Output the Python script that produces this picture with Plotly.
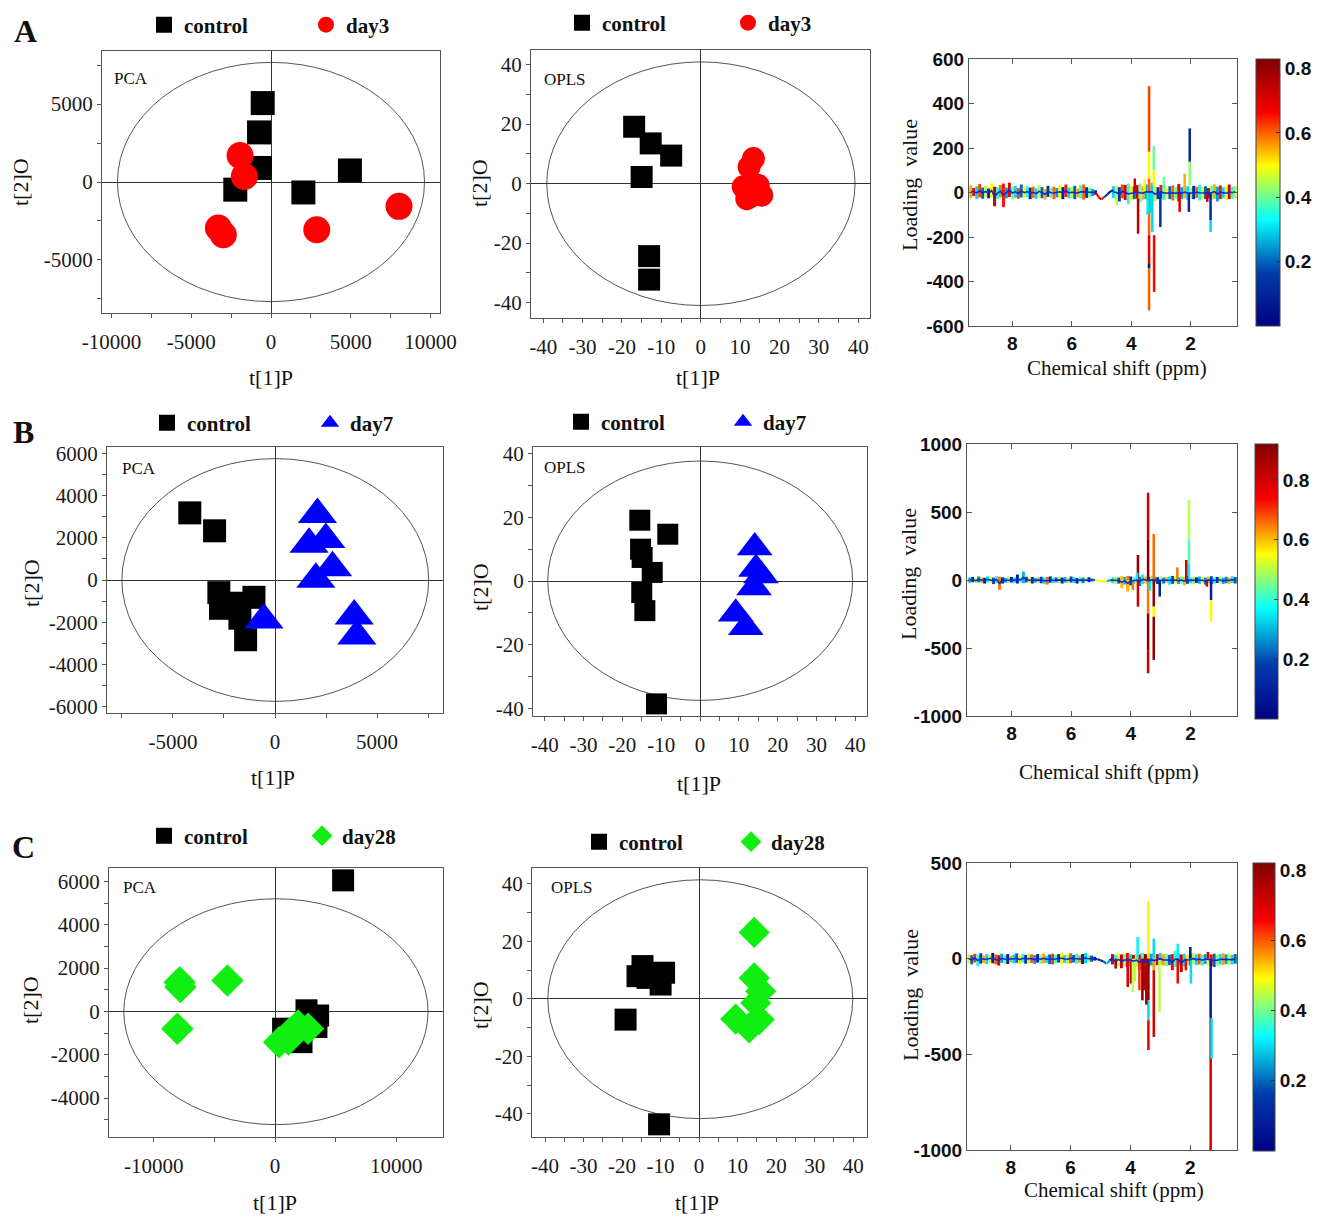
import plotly.graph_objects as go
from plotly.colors import sample_colorscale

W, H = 1321, 1217

# ======================= SCORE PLOT DATA =======================
A_PCA_CTRL_X = [-520, -750, -690, -2240, 2030, 4950]
A_PCA_CTRL_Y = [5060, 3180, 900, -490, -670, 740]
A_PCA_DAY_X = [-1940, -1670, -3300, -2990, 2870, 8030]
A_PCA_DAY_Y = [1700, 360, -2950, -3380, -3060, -1560]

A_OPLS_CTRL_X = [-16.9, -12.7, -7.5, -15.0, -13.1, -13.1]
A_OPLS_CTRL_Y = [19.1, 13.5, 9.4, 2.2, -24.4, -32.3]
A_OPLS_DAY_X = [13.4, 12.3, 10.8, 14.6, 15.5, 11.7, 12.5]
A_OPLS_DAY_Y = [8.4, 5.6, -1.1, -0.6, -3.9, -5.1, -4.5]

B_PCA_CTRL_X = [-4175, -2960, -2750, -2670, -1770, -1030, -1720, -1440]
B_PCA_CTRL_Y = [3180, 2330, -600, -1340, -1100, -820, -1810, -2830]
B_PCA_DAY_X = [2080, 1670, 2490, 2820, 2000, 3880, 4010, -540]
B_PCA_DAY_Y = [3100, 1690, 1920, 580, 30, -1700, -2650, -1890]

B_OPLS_CTRL_X = [-15.5, -8.3, -15.3, -14.9, -12.3, -15.0, -14.2, -11.2]
B_OPLS_CTRL_Y = [19.1, 14.7, 10.0, 7.4, 2.7, -3.6, -9.3, -38.6]
B_OPLS_DAY_X = [14.1, 14.4, 15.7, 13.9, 9.2, 11.8]
B_OPLS_DAY_Y = [10.5, 3.8, 1.7, -2.0, -10.3, -14.5]

C_PCA_CTRL_X = [5610, 2590, 3550, 3410, 660, 2180, 1490]
C_PCA_CTRL_Y = [6050, 50, -190, -720, -800, -1420, -1180]
C_PCA_DAY_X = [-7870, -7810, -3930, -8060, 330, 1160, 1900, 2720, 1100]
C_PCA_DAY_Y = [1350, 1120, 1430, -800, -1420, -1030, -650, -800, -1300]

C_OPLS_CTRL_X = [-14.7, -16.0, -13.4, -9.1, -10.0, -19.1, -10.4]
C_OPLS_CTRL_Y = [11.4, 7.9, 7.3, 9.1, 5.0, -7.2, -43.6]
C_OPLS_DAY_X = [14.3, 14.3, 16.0, 14.7, 9.5, 13.0, 15.6]
C_OPLS_DAY_Y = [23.1, 7.3, 2.7, -1.4, -7.0, -10.1, -7.2]

# Hotelling T2 ellipse extents (x0, x1, y0, y1)
A_PCA_ELL = [-9630, 9630, -7670, 7670]
A_OPLS_ELL = [-39.1, 39.2, -41.0, 40.9]
B_PCA_ELL = [-7500, 7530, -5750, 5750]
B_OPLS_ELL = [-39.2, 39.3, -37.5, 37.7]
C_PCA_ELL = [-12480, 12620, -5230, 5200]
C_OPLS_ELL = [-39.3, 39.9, -41.6, 41.4]

GROUPS = ["control", "day3", "day7", "day28"]

# tick labels
A_PCA_XT = [-10000, -5000, 0, 5000, 10000]
A_PCA_YT = [-5000, 0, 5000]
B_PCA_XT = [-5000, 0, 5000]
B_PCA_YT = [-6000, -4000, -2000, 0, 2000, 4000, 6000]
C_PCA_XT = [-10000, 0, 10000]
C_PCA_YT = [-4000, -2000, 0, 2000, 4000, 6000]
OPLS_XT = [-40, -30, -20, -10, 0, 10, 20, 30, 40]
OPLS_YT = [-40, -20, 0, 20, 40]
LOAD_XT = [8, 6, 4, 2]
A_LOAD_YT = [-600, -400, -200, 0, 200, 400, 600]
B_LOAD_YT = [-1000, -500, 0, 500, 1000]
C_LOAD_YT = [-1000, -500, 0, 500]
CBAR_T = [0.2, 0.4, 0.6, 0.8]

# ======================= LOADING PLOT DATA =======================
NOISE_PPM = [9.4, 9.3, 9.2, 9.1, 9.0, 8.9, 8.8, 8.7, 8.6, 8.5, 8.4, 8.3, 8.2, 8.1, 8.0,
             7.9, 7.8, 7.7, 7.6, 7.5, 7.4, 7.3, 7.2, 7.1, 7.0, 6.9, 6.8, 6.7, 6.6, 6.5,
             6.4, 6.3, 6.2, 6.1, 6.0, 5.9, 5.8, 5.7, 5.6, 5.5, 5.4, 5.3, 5.2,
             4.6, 4.5, 4.4, 4.3, 4.2, 4.1, 4.0, 3.9, 3.8, 3.7, 3.6, 3.5, 3.4, 3.3,
             3.2, 3.1, 3.0, 2.9, 2.8, 2.7, 2.6, 2.5, 2.4, 2.3, 2.2, 2.1, 2.0, 1.9,
             1.8, 1.7, 1.6, 1.5, 1.4, 1.3, 1.2, 1.1, 1.0, 0.9, 0.8, 0.7, 0.6, 0.5]

A_NZ_HI = [32, 20, 28, 38, 22, 30, 18, 42, 26, 24, 34, 40, 22, 44, 26, 30, 20, 36, 24, 28, 22,
           26, 18, 32, 24, 16, 30, 22, 26, 20, 32, 24, 36, 22, 26, 30, 18, 32, 36, 24, 22, 16, 10,
           28, 30, 24, 36, 34, 40, 30, 26, 34, 40, 28, 36, 30, 44, 26, 24, 34, 30, 22, 28, 32,
           26, 38, 24, 30, 28, 22, 30, 26, 34, 24, 28, 20, 30, 36, 26, 32, 24, 28, 36, 26, 30]
A_NZ_LO = [-26, -16, -30, -22, -28, -20, -26, -24, -62, -30, -22, -66, -26, -20, -30, -24, -28,
           -22, -26, -20, -30, -24, -28, -22, -26, -32, -20, -24, -30, -22, -26, -30, -20, -26,
           -24, -30, -22, -26, -32, -24, -20, -16, -10,
           -24, -30, -40, -26, -34, -52, -36, -30, -28, -44, -32, -30, -26, -36, -40, -30, -28,
           -34, -26, -30, -36, -28, -40, -30, -26, -34, -28, -30, -24, -36, -28, -30, -26, -32,
           -28, -40, -30, -26, -34, -30, -28, -24]
A_NZ_C = [0.55, 0.7, 0.3, 0.62, 0.2, 0.45, 0.12, 0.5, 0.72, 0.35, 0.58, 0.65, 0.25, 0.7, 0.4,
          0.3, 0.62, 0.2, 0.5, 0.35, 0.1, 0.6, 0.3, 0.45, 0.2, 0.55, 0.15, 0.4, 0.6, 0.25, 0.5,
          0.1, 0.65, 0.3, 0.45, 0.2, 0.55, 0.35, 0.6, 0.15, 0.4, 0.25, 0.1,
          0.3, 0.45, 0.15, 0.62, 0.7, 0.35, 0.5, 0.2, 0.72, 0.4, 0.55, 0.25, 0.6, 0.3, 0.45,
          0.15, 0.65, 0.35, 0.5, 0.2, 0.6, 0.4, 0.7, 0.25, 0.55, 0.3, 0.45, 0.15, 0.6, 0.35,
          0.5, 0.2, 0.7, 0.4, 0.55, 0.25, 0.65, 0.3, 0.5, 0.72, 0.35, 0.45]
A_SPK_PPM = [3.40, 3.40, 3.40, 3.40, 3.40, 3.40, 3.24, 3.24, 3.23, 3.29, 3.45, 3.35, 3.77, 3.88,
             3.55, 3.02, 2.03, 2.03, 2.06, 1.33, 1.33, 2.37, 1.44, 2.90, 2.20, 4.49]
A_SPK_LO = [183, 63, -192, -327, -530, -340, 100, 30, -447, -177, -100, -90, -185, 0,
            0, -155, 138, 33, -87, -125, -177, -87, -42, 0, 0, -57]
A_SPK_HI = [478, 183, 63, -192, -327, -320, 208, 100, -192, 0, 0, 0, -27, 63,
            60, 0, 288, 138, 0, 0, -125, 0, 0, 70, 85, 0]
A_SPK_C = [0.62, 0.50, 0.60, 0.70, 0.60, 0.08, 0.40, 0.50, 0.66, 0.30, 0.32, 0.30, 0.75, 0.72,
           0.50, 0.15, 0.10, 0.42, 0.12, 0.12, 0.30, 0.70, 0.72, 0.40, 0.55, 0.45]
A_WATER_PPM = [5.2, 5.1, 5.05, 5.0, 4.9, 4.8, 4.7, 4.6]
A_WATER_Y = [0, -20, -28, -30, -20, -8, 5, 10]
A_WATER_C = [0.68, 0.7, 0.7, 0.65, 0.15, 0.1, 0.1]

B_NZ_HI = [18, 22, 14, 26, 20, 16, 28, 22, 18, 30, 24, 20, 16, 26, 22, 18, 40, 20, 62, 24, 18,
           22, 16, 20, 24, 18, 22, 26, 16, 20, 24, 18, 22, 16, 26, 20, 14, 22, 18, 16, 20, 12, 8,
           20, 24, 18, 28, 22, 30, 26, 20, 34, 24, 40, 26, 22, 30, 24, 20, 28, 18, 22, 26, 30,
           24, 20, 26, 22, 28, 18, 24, 20, 26, 22, 18, 24, 28, 20, 22, 26, 18, 24, 20, 28, 22]
B_NZ_LO = [-20, -16, -24, -18, -22, -26, -18, -24, -30, -24, -72, -26, -20, -24, -18, -22, -26,
           -20, -24, -18, -22, -26, -20, -18, -24, -28, -34, -20, -24, -18, -22, -26, -20, -24,
           -18, -22, -26, -20, -24, -18, -16, -12, -8,
           -24, -30, -26, -60, -34, -78, -40, -30, -36, -44, -30, -26, -34, -28, -24, -30, -36,
           -26, -22, -34, -28, -24, -30, -26, -40, -28, -24, -30, -22, -28, -26, -34, -24, -30,
           -28, -22, -26, -30, -24, -28, -22, -26]
B_NZ_C = [0.3, 0.15, 0.5, 0.25, 0.6, 0.1, 0.35, 0.55, 0.2, 0.4, 0.65, 0.15, 0.3, 0.5, 0.12,
          0.35, 0.1, 0.45, 0.3, 0.2, 0.55, 0.15, 0.3, 0.6, 0.2, 0.35, 0.65, 0.12, 0.4, 0.25,
          0.5, 0.15, 0.3, 0.55, 0.2, 0.35, 0.1, 0.45, 0.25, 0.5, 0.15, 0.3, 0.5,
          0.35, 0.5, 0.2, 0.6, 0.3, 0.65, 0.15, 0.4, 0.55, 0.25, 0.35, 0.6, 0.2, 0.45, 0.3,
          0.15, 0.5, 0.25, 0.6, 0.35, 0.2, 0.55, 0.3, 0.45, 0.6, 0.2, 0.35, 0.5, 0.15, 0.3,
          0.55, 0.25, 0.6, 0.2, 0.4, 0.15, 0.5, 0.3, 0.25, 0.6, 0.35, 0.2]
B_SPK_PPM = [3.42, 3.42, 3.42, 3.42, 3.42, 3.23, 3.23, 3.23, 3.23, 3.36, 3.76, 3.76, 3.03,
             2.05, 2.05, 2.05, 2.14, 2.44, 1.31, 1.31, 1.45, 3.93, 4.10, 3.79]
B_SPK_LO = [0, 294, -245, -515, -686, 0, -196, -270, -588, -80, 0, -196, -122,
            300, 120, 0, 0, 0, -147, -306, -49, -73, -86, 0]
B_SPK_HI = [294, 642, 0, -245, -515, 338, 0, -196, -270, 0, 184, 0, 0,
            588, 300, 120, 147, 93, 0, -147, 0, 0, 0, 54]
B_SPK_C = [0.90, 0.80, 0.65, 0.90, 0.80, 0.66, 0.88, 0.55, 0.90, 0.35, 0.90, 0.80, 0.10,
           0.50, 0.42, 0.35, 0.80, 0.65, 0.10, 0.55, 0.80, 0.65, 0.60, 0.35]
B_WATER_PPM = [5.2, 5.1, 5.0, 4.9, 4.8, 4.7, 4.6]
B_WATER_Y = [0, -5, -10, -12, -8, -3, 0]
B_WATER_C = [0.55, 0.55, 0.55, 0.55, 0.3, 0.2]

C_NZ_HI = [22, 18, 26, 20, 28, 16, 24, 20, 30, 22, 18, 26, 20, 24, 16, 22, 28, 18, 24, 20, 26,
           22, 18, 24, 20, 28, 16, 22, 26, 20, 24, 30, 18, 22, 28, 20, 26, 18, 24, 30, 20, 16, 10,
           24, 20, 28, 22, 26, 30, 24, 20, 26, 22, 30, 24, 28, 26, 20, 24, 30, 22, 26, 20, 24,
           40, 28, 22, 26, 20, 24, 30, 22, 26, 20, 24, 28, 22, 26, 20, 24, 28, 22, 26, 20, 24]
C_NZ_LO = [-24, -30, -20, -40, -26, -22, -28, -20, -24, -30, -36, -22, -26, -28, -20, -24, -22,
           -28, -20, -26, -24, -22, -28, -20, -26, -24, -22, -28, -30, -24, -20, -26, -22, -28,
           -24, -20, -26, -22, -28, -24, -20, -16, -10,
           -30, -48, -36, -50, -40, -44, -38, -46, -42, -60, -50, -48, -56, -36, -40, -34, -30,
           -36, -40, -34, -60, -44, -36, -70, -40, -30, -36, -28, -34, -30, -36, -28, -34, -40,
           -44, -36, -30, -34, -28, -32, -30, -26]
C_NZ_C = [0.5, 0.2, 0.62, 0.35, 0.15, 0.55, 0.3, 0.45, 0.1, 0.6, 0.7, 0.25, 0.4, 0.12, 0.55,
          0.3, 0.2, 0.5, 0.35, 0.15, 0.45, 0.6, 0.25, 0.1, 0.4, 0.55, 0.3, 0.2, 0.62, 0.35,
          0.15, 0.5, 0.3, 0.45, 0.6, 0.2, 0.35, 0.55, 0.1, 0.3, 0.45, 0.2, 0.12,
          0.7, 0.35, 0.5, 0.72, 0.4, 0.65, 0.3, 0.75, 0.45, 0.7, 0.35, 0.8, 0.6, 0.25, 0.5,
          0.7, 0.3, 0.55, 0.4, 0.2, 0.65, 0.35, 0.6, 0.72, 0.3, 0.5, 0.2, 0.45, 0.3, 0.6,
          0.35, 0.25, 0.5, 0.65, 0.2, 0.4, 0.3, 0.55, 0.25, 0.45, 0.3, 0.2]
C_SPK_PPM = [3.40, 3.40, 3.40, 3.40, 3.22, 3.22, 3.22, 3.76, 3.03, 4.09, 3.98, 3.92, 3.60,
             3.55, 3.70, 3.47, 2.42, 2.42, 2.00, 1.98, 2.15, 1.32, 1.32, 1.29, 4.49, 1.41, 3.85]
C_SPK_LO = [0, -218, -322, -478, 0, -60, -409, 0, -278, -148, -130, -174, -218,
            -165, -165, -240, 0, -130, 0, -130, -61, -313, -1000, -522, -52, 0, -120]
C_SPK_HI = [301, 0, -218, -322, 104, 0, -60, 113, 0, 0, 0, 0, 0,
            0, 0, 0, 78, 0, 61, 0, 0, 0, -313, -313, 0, 35, 0]
C_SPK_C = [0.50, 0.80, 0.30, 0.68, 0.30, 0.55, 0.70, 0.32, 0.45, 0.70, 0.75, 0.45, 0.80,
           0.75, 0.62, 0.78, 0.32, 0.65, 0.08, 0.30, 0.65, 0.08, 0.70, 0.30, 0.72, 0.70, 0.45]
C_WATER_PPM = [5.2, 5.1, 5.0, 4.9, 4.8, 4.75, 4.7, 4.6]
C_WATER_Y = [0, -3, -8, -15, -25, -22, -8, 0]
C_WATER_C = [0.1, 0.1, 0.12, 0.2, 0.3, 0.25, 0.1]

# ======================= LAYOUT HELPERS =======================
# pixel boxes of the plot frames: (left, right, top, bottom)
BOX = {1: (102, 440, 51, 313), 2: (531, 870, 50, 318), 3: (969, 1237, 59, 326),
       4: (107, 443, 447, 713), 5: (533, 867, 447, 716), 6: (967, 1237, 444, 716),
       7: (109, 443, 868, 1137), 8: (532, 867, 868, 1137), 9: (967, 1237, 863, 1150)}


def px(x):
    return x / W


def py(y):
    return 1 - y / H


def ax_names(k):
    s = "" if k == 1 else str(k)
    return "x" + s, "y" + s, "xaxis" + s, "yaxis" + s


SERIF = "Liberation Serif"
SANS = "Liberation Sans"
SC_FONT = dict(family=SERIF, size=21, color="#1a1a1a")
LD_FONT = dict(family=SANS, size=19, color="#111111", weight="bold")
LINE_C = "#555555"

fig = go.Figure()
layout = dict(width=W, height=H, margin=dict(l=0, r=0, t=0, b=0, autoexpand=False),
              plot_bgcolor="white", paper_bgcolor="white", barmode="overlay",
              showlegend=True, shapes=[], annotations=[])


def lbl(v):
    return str(v)


def score_axes(k, xr, yr, xt, yt, xminor, yminor):
    x0, x1, yt_px, yb_px = BOX[k]
    xn, yn, xk, yk = ax_names(k)
    common = dict(showline=True, mirror=True, linecolor=LINE_C, linewidth=1,
                  ticks="outside", ticklen=4, tickcolor=LINE_C, showgrid=False,
                  zeroline=True, zerolinecolor="#333333", zerolinewidth=1,
                  tickfont=SC_FONT, tickmode="array", fixedrange=True)
    layout[xk] = dict(common, domain=[px(x0), px(x1)], anchor=yn, range=xr,
                      tickvals=xt, ticktext=[lbl(v) for v in xt], ticklabelstandoff=6,
                      minor=dict(dtick=xminor, tick0=0, ticks="outside", ticklen=4,
                                 tickcolor=LINE_C))
    layout[yk] = dict(common, domain=[py(yb_px), py(yt_px)], anchor=xn, range=yr,
                      tickvals=yt, ticktext=[lbl(v) for v in yt],
                      minor=dict(dtick=yminor, tick0=0, ticks="outside", ticklen=4,
                                 tickcolor=LINE_C))


def load_axes(k, xr, yr, yt):
    x0, x1, yt_px, yb_px = BOX[k]
    xn, yn, xk, yk = ax_names(k)
    common = dict(showline=True, mirror="ticks", linecolor=LINE_C, linewidth=1,
                  ticks="inside", ticklen=5, tickcolor=LINE_C, showgrid=False,
                  zeroline=False, tickfont=LD_FONT, tickmode="array", fixedrange=True)
    layout[xk] = dict(common, domain=[px(x0), px(x1)], anchor=yn, range=xr,
                      tickvals=LOAD_XT, ticktext=[lbl(v) for v in LOAD_XT])
    layout[yk] = dict(common, domain=[py(yb_px), py(yt_px)], anchor=xn, range=yr,
                      tickvals=yt, ticktext=[lbl(v) for v in yt])


def add_scores(k, cx, cy, dx, dy, day_name, day_sym, day_col, sq_size, day_size, ell, legend):
    xn, yn, _, _ = ax_names(k)
    fig.add_trace(go.Scatter(x=cx, y=cy, mode="markers", name="control", legend=legend,
                             marker=dict(symbol="square", size=sq_size, color="black",
                                         line=dict(width=0)),
                             xaxis=xn, yaxis=yn, hoverinfo="x+y"))
    fig.add_trace(go.Scatter(x=dx, y=dy, mode="markers", name=day_name, legend=legend,
                             marker=dict(symbol=day_sym, size=day_size, color=day_col,
                                         line=dict(width=0)),
                             xaxis=xn, yaxis=yn, hoverinfo="x+y"))
    layout["shapes"].append(dict(type="circle", xref=xn, yref=yn, x0=ell[0], x1=ell[1],
                                 y0=ell[2], y1=ell[3], line=dict(color="#555555", width=1),
                                 layer="below"))


def add_loading(k, hi, lo, cc, s_ppm, s_lo, s_hi, s_c, w_ppm, w_y, w_c, cax, cmax):
    xn, yn, _, _ = ax_names(k)
    fig.add_trace(go.Bar(x=NOISE_PPM, y=[h - l for h, l in zip(hi, lo)], base=lo, width=0.1,
                         marker=dict(color=cc, coloraxis=cax, line=dict(width=0)),
                         showlegend=False, xaxis=xn, yaxis=yn, hoverinfo="skip"))
    # water-region trace, segment by segment, coloured by correlation
    for i in range(len(w_ppm) - 1):
        col = sample_colorscale("Jet", [min(w_c[i] / cmax, 1.0)])[0]
        fig.add_trace(go.Scatter(x=w_ppm[i:i + 2], y=w_y[i:i + 2], mode="lines",
                                 line=dict(color=col, width=2.2), showlegend=False,
                                 xaxis=xn, yaxis=yn, hoverinfo="skip"))
    fig.add_trace(go.Bar(x=s_ppm, y=[h - l for h, l in zip(s_hi, s_lo)], base=s_lo, width=0.085,
                         marker=dict(color=s_c, coloraxis=cax, line=dict(width=0)),
                         showlegend=False, xaxis=xn, yaxis=yn, hoverinfo="skip"))
    mid_x, mid_y = [], []
    for i, (p, h, l) in enumerate(zip(NOISE_PPM, hi, lo)):
        if i == 43:
            mid_x.append(None)
            mid_y.append(None)
        mid_x.append(p)
        mid_y.append((h + l) / 2)
    fig.add_trace(go.Scatter(x=mid_x, y=mid_y, mode="lines", line=dict(color="rgb(10,40,215)", width=1.6),
                             showlegend=False, xaxis=xn, yaxis=yn, hoverinfo="skip"))


def colorbar_axis(cmax, x0, x1, y0, y1):
    return dict(colorscale="Jet", cmin=0, cmax=cmax,
                colorbar=dict(x=px(x0), xanchor="left", xpad=0, y=py((y0 + y1) / 2),
                              yanchor="middle", ypad=0, len=y1 - y0, lenmode="pixels",
                              thickness=x1 - x0, thicknessmode="pixels", outlinewidth=1,
                              outlinecolor="#444444", tickmode="array", tickvals=CBAR_T,
                              ticktext=[lbl(v) for v in CBAR_T], ticks="inside", ticklen=4,
                              tickcolor="#333333", tickfont=LD_FONT))


def legend_cfg(x_start, y_center, entry_w):
    return dict(x=px(x_start), xanchor="left", y=py(y_center), yanchor="middle",
                orientation="h", bgcolor="rgba(0,0,0,0)", borderwidth=0,
                font=dict(family=SERIF, size=21, color="#111111", weight="bold"),
                entrywidth=entry_w, entrywidthmode="pixels", itemclick=False,
                itemdoubleclick=False)


# ======================= BUILD =======================
RED, BLUE, GREEN = "#ff0000", "#0000ff", "#11ee11"

score_axes(1, [-10600, 10600], [-8400, 8400], A_PCA_XT, A_PCA_YT, 2500, 2500)
add_scores(1, A_PCA_CTRL_X, A_PCA_CTRL_Y, A_PCA_DAY_X, A_PCA_DAY_Y, GROUPS[1], "circle", RED,
           24, 27, A_PCA_ELL, "legend")
score_axes(2, [-43.1, 43.0], [-45.2, 44.9], OPLS_XT, OPLS_YT, 5, 10)
add_scores(2, A_OPLS_CTRL_X, A_OPLS_CTRL_Y, A_OPLS_DAY_X, A_OPLS_DAY_Y, GROUPS[1], "circle", RED,
           22, 23, A_OPLS_ELL, "legend2")
score_axes(4, [-8230, 8230], [-6300, 6300], B_PCA_XT, B_PCA_YT, 2500, 1000)
add_scores(4, B_PCA_CTRL_X, B_PCA_CTRL_Y, B_PCA_DAY_X, B_PCA_DAY_Y, GROUPS[2], "triangle-up", BLUE,
           23, 34, B_PCA_ELL, "legend3")
score_axes(5, [-43.0, 43.0], [-42.4, 42.1], OPLS_XT, OPLS_YT, 5, 10)
add_scores(5, B_OPLS_CTRL_X, B_OPLS_CTRL_Y, B_OPLS_DAY_X, B_OPLS_DAY_Y, GROUPS[2], "triangle-up", BLUE,
           21, 31, B_OPLS_ELL, "legend4")
score_axes(7, [-13700, 13850], [-5800, 6620], C_PCA_XT, C_PCA_YT, 5000, 1000)
add_scores(7, C_PCA_CTRL_X, C_PCA_CTRL_Y, C_PCA_DAY_X, C_PCA_DAY_Y, GROUPS[3], "diamond", GREEN,
           22, 25, C_PCA_ELL, "legend5")
score_axes(8, [-43.4, 43.6], [-48.0, 45.5], OPLS_XT, OPLS_YT, 5, 10)
add_scores(8, C_OPLS_CTRL_X, C_OPLS_CTRL_Y, C_OPLS_DAY_X, C_OPLS_DAY_Y, GROUPS[3], "diamond", GREEN,
           22, 24, C_OPLS_ELL, "legend6")

load_axes(3, [9.46, 0.44], [-600, 600], A_LOAD_YT)
add_loading(3, A_NZ_HI, A_NZ_LO, A_NZ_C, A_SPK_PPM, A_SPK_LO, A_SPK_HI, A_SPK_C,
            A_WATER_PPM, A_WATER_Y, A_WATER_C, "coloraxis", 0.83)
load_axes(6, [9.49, 0.44], [-1000, 1000], B_LOAD_YT)
add_loading(6, B_NZ_HI, B_NZ_LO, B_NZ_C, B_SPK_PPM, B_SPK_LO, B_SPK_HI, B_SPK_C,
            B_WATER_PPM, B_WATER_Y, B_WATER_C, "coloraxis2", 0.92)
load_axes(9, [9.46, 0.44], [-1000, 500], C_LOAD_YT)
add_loading(9, C_NZ_HI, C_NZ_LO, C_NZ_C, C_SPK_PPM, C_SPK_LO, C_SPK_HI, C_SPK_C,
            C_WATER_PPM, C_WATER_Y, C_WATER_C, "coloraxis3", 0.82)

layout["coloraxis"] = colorbar_axis(0.83, 1256, 1280, 59, 326)
layout["coloraxis2"] = colorbar_axis(0.92, 1255, 1278, 444, 719)
layout["coloraxis3"] = colorbar_axis(0.82, 1253, 1275, 863, 1151)

layout["legend"] = legend_cfg(144, 25, 117)
layout["legend2"] = legend_cfg(562, 23, 121)
layout["legend3"] = legend_cfg(147, 423, 118)
layout["legend4"] = legend_cfg(561, 422, 117)
layout["legend5"] = legend_cfg(144, 836, 113)
layout["legend6"] = legend_cfg(579, 842, 107)


def note(text, x, y, size=21, angle=0, bold=False, family=SERIF, anchor="center"):
    f = dict(family=family, size=size, color="#111111")
    if bold:
        f["weight"] = "bold"
    layout["annotations"].append(dict(text=text, x=px(x), y=py(y), xref="paper", yref="paper",
                                      showarrow=False, xanchor=anchor, yanchor="middle",
                                      textangle=angle, font=f))


# panel letters
note("A", 25, 31, size=32, bold=True)
note("B", 23, 432, size=32, bold=True)
note("C", 23, 847, size=32, bold=True)

# model labels
for txt, x, y in [("PCA", 112, 78), ("OPLS", 542, 79), ("PCA", 120, 468), ("OPLS", 542, 467),
                  ("PCA", 121, 887), ("OPLS", 549, 887)]:
    note(txt, x, y, size=17, anchor="left")

# axis titles
for x, y in [(271, 378), (698, 378), (273, 777), (699, 783), (275, 1202), (697, 1202)]:
    note("t[1]P", x, y, size=22)
for x, y in [(20, 182), (480, 183), (31, 583), (480, 587), (30, 1000), (480, 1005)]:
    note("t[2]O", x, y, size=22, angle=-90)
for x, y in [(1117, 368), (1109, 772), (1114, 1190)]:
    note("Chemical shift (ppm)", x, y, size=21)
for x, y in [(909, 185), (908, 574), (910, 995)]:
    note("Loading\u00a0\u00a0value", x, y, size=22, angle=-90)

fig.update_layout(**layout)
fig.write_html("out.html", config={"displayModeBar": False},
               post_script="document.body.style.margin='0';document.body.style.padding='0';")
